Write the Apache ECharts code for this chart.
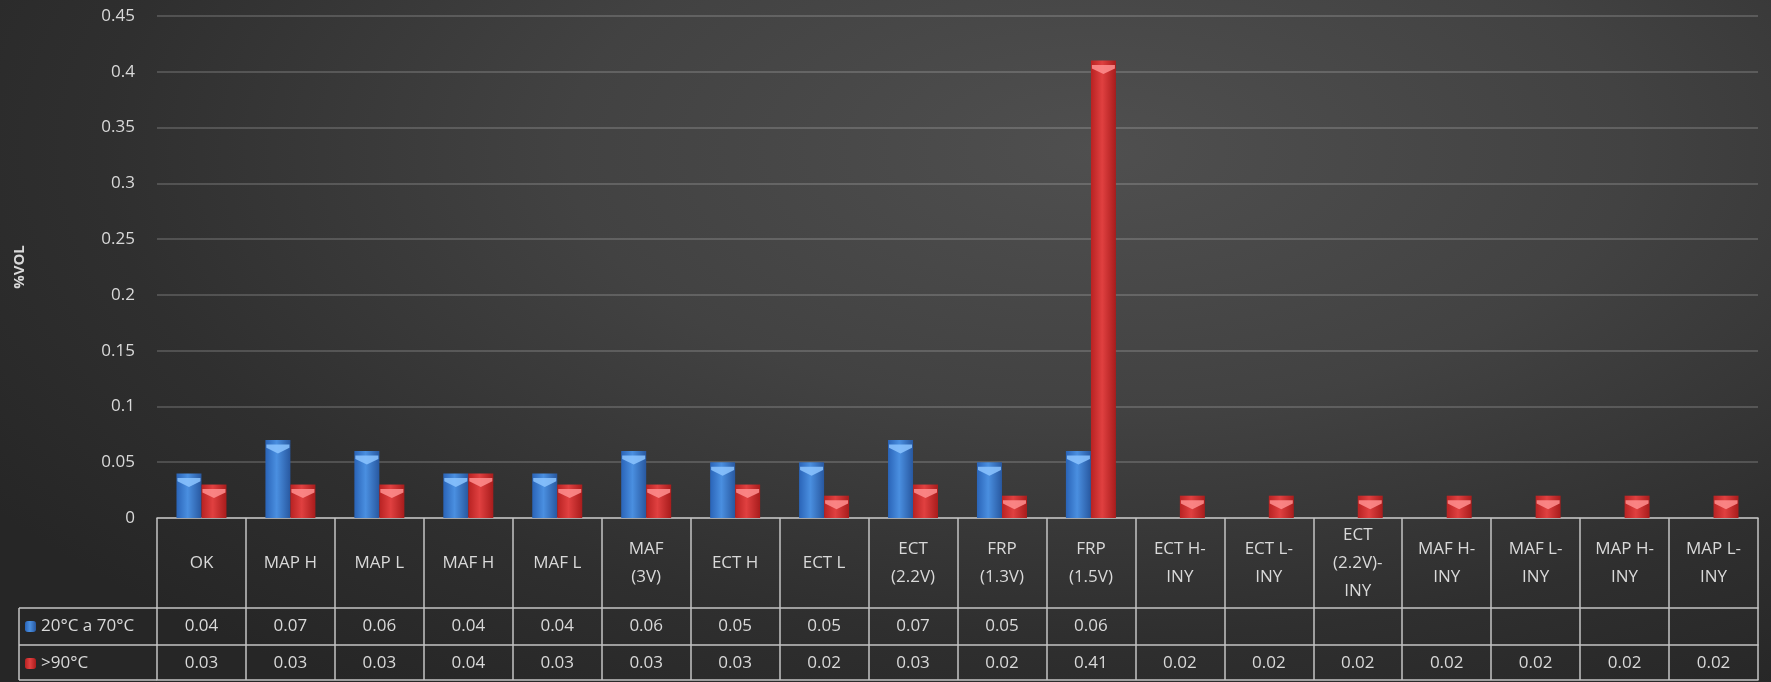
<!DOCTYPE html>
<html>
<head>
<meta charset="utf-8">
<script src="https://cdn.jsdelivr.net/npm/echarts@6/dist/echarts.min.js"></script>
<style>
  html, body { margin: 0; padding: 0; }
  body { width: 1771px; height: 682px; overflow: hidden;
    background: radial-gradient(ellipse 75% 95% at 62% 22%, #4f4f4f 0%, #424242 40%, #2f2f2f 75%, #262626 100%); }
  #chart { width: 1771px; height: 682px; }
</style>
</head>
<body>
<div id="chart"></div>
<script>
const categories = ['OK', 'MAP H', 'MAP L', 'MAF H', 'MAF L', 'MAF\n(3V)', 'ECT H', 'ECT L',
  'ECT\n(2.2V)', 'FRP\n(1.3V)', 'FRP\n(1.5V)', 'ECT H-\nINY', 'ECT L-\nINY', 'ECT\n(2.2V)-\nINY',
  'MAF H-\nINY', 'MAF L-\nINY', 'MAP H-\nINY', 'MAP L-\nINY'];
const seriesNames = ['20°C a 70°C', '>90°C'];
const lowTemp = [0.04, 0.07, 0.06, 0.04, 0.04, 0.06, 0.05, 0.05, 0.07, 0.05, 0.06,
  null, null, null, null, null, null, null];
const highTemp = [0.03, 0.03, 0.03, 0.04, 0.03, 0.03, 0.03, 0.02, 0.03, 0.02, 0.41,
  0.02, 0.02, 0.02, 0.02, 0.02, 0.02, 0.02];
const yTicks = { min: 0, max: 0.45, interval: 0.05 };
const yTitle = '%VOL';

const FONT = 'Open Sans';
const TXT = '#d9d9d9';
const LINE = '#c4c4c4';

function hGrad(c0, c1, c2) {
  return new echarts.graphic.LinearGradient(0, 0, 1, 0, [
    { offset: 0, color: c0 }, { offset: 0.45, color: c1 }, { offset: 1, color: c2 }
  ]);
}
const blueFill = hGrad('#2a64b8', '#4a8fe0', '#2858a0');
const redFill = hGrad('#b82222', '#e04040', '#a81c1c');

const fmt = v => (v === null || v === undefined) ? '' : String(v);

const chart = echarts.init(document.getElementById('chart'));

const tableAxis = (offset, labelFn, margin) => ({
  type: 'category', data: categories, position: 'bottom', offset: offset,
  axisLine: { show: true, lineStyle: { color: LINE, width: 1.5 } },
  axisTick: { show: false },
  axisLabel: labelFn ? {
    interval: 0, margin: margin, color: TXT, fontFamily: FONT, fontSize: 17,
    verticalAlign: 'middle', formatter: labelFn
  } : { show: false },
  splitLine: { show: false }
});

chart.setOption({
  animation: false,
  grid: { left: 157, right: 13, top: 16, bottom: 164, containLabel: false },
  legend: [
    { data: [seriesNames[0]], left: 20, top: 613, itemWidth: 11, itemHeight: 11, itemGap: 4,
      textStyle: { color: TXT, fontFamily: FONT, fontSize: 17 } },
    { data: [seriesNames[1]], left: 20, top: 650, itemWidth: 11, itemHeight: 11, itemGap: 4,
      textStyle: { color: TXT, fontFamily: FONT, fontSize: 17 } }
  ],
  xAxis: [
    {
      type: 'category', data: categories, position: 'bottom',
      axisLine: { show: true, lineStyle: { color: LINE, width: 1.5 } },
      axisTick: { show: true, interval: 0, length: 162, lineStyle: { color: LINE, width: 1.5 } },
      axisLabel: { interval: 0, margin: 45, color: TXT, fontFamily: FONT, fontSize: 17,
        lineHeight: 28, verticalAlign: 'middle', align: 'center' },
      splitLine: { show: false }
    },
    tableAxis(90, (v, i) => fmt(lowTemp[i]), 18),
    tableAxis(127, (v, i) => fmt(highTemp[i]), 18),
    tableAxis(162, null, 0),
    { type: 'category', data: categories, show: false }
  ],
  yAxis: {
    type: 'value', min: yTicks.min, max: yTicks.max, interval: yTicks.interval,
    name: yTitle, nameLocation: 'middle', nameRotate: 90, nameGap: 130,
    nameTextStyle: { color: TXT, fontFamily: FONT, fontSize: 15, fontWeight: 'bold' },
    axisLine: { show: false }, axisTick: { show: false },
    axisLabel: { color: TXT, fontFamily: FONT, fontSize: 17, margin: 22 },
    splitLine: { lineStyle: { color: 'rgba(255,255,255,0.22)', width: 1.5 } }
  },
  graphic: [
    { type: 'line', shape: { x1: 19, y1: 608, x2: 157, y2: 608 }, style: { stroke: LINE, lineWidth: 1.5 } },
    { type: 'line', shape: { x1: 19, y1: 645, x2: 157, y2: 645 }, style: { stroke: LINE, lineWidth: 1.5 } },
    { type: 'line', shape: { x1: 19, y1: 680, x2: 157, y2: 680 }, style: { stroke: LINE, lineWidth: 1.5 } },
    { type: 'line', shape: { x1: 19, y1: 608, x2: 19, y2: 680 }, style: { stroke: LINE, lineWidth: 1.5 } }
  ],
  series: [
    { name: seriesNames[0], type: 'bar', xAxisIndex: 0, data: lowTemp, barWidth: 25, barGap: '0%',
      itemStyle: { color: blueFill } },
    { name: seriesNames[1], type: 'bar', xAxisIndex: 0, data: highTemp, barWidth: 25, barGap: '0%',
      itemStyle: { color: redFill } },
    { name: 'capLow', type: 'pictorialBar', xAxisIndex: 4, data: lowTemp, barWidth: 25, barGap: '0%',
      symbol: 'path://M0,0 L10,0 L10,3 L5,8 L0,3 Z', symbolSize: [23, 9], symbolPosition: 'end',
      symbolOffset: [0, '50%'], itemStyle: { color: '#8cc4ff', opacity: 0.85 }, z: 3, silent: true },
    { name: 'capHigh', type: 'pictorialBar', xAxisIndex: 4, data: highTemp, barWidth: 25, barGap: '0%',
      symbol: 'path://M0,0 L10,0 L10,3 L5,8 L0,3 Z', symbolSize: [23, 9], symbolPosition: 'end',
      symbolOffset: [0, '50%'], itemStyle: { color: '#ff8f8f', opacity: 0.85 }, z: 3, silent: true }
  ]
});
</script>
</body>
</html>
